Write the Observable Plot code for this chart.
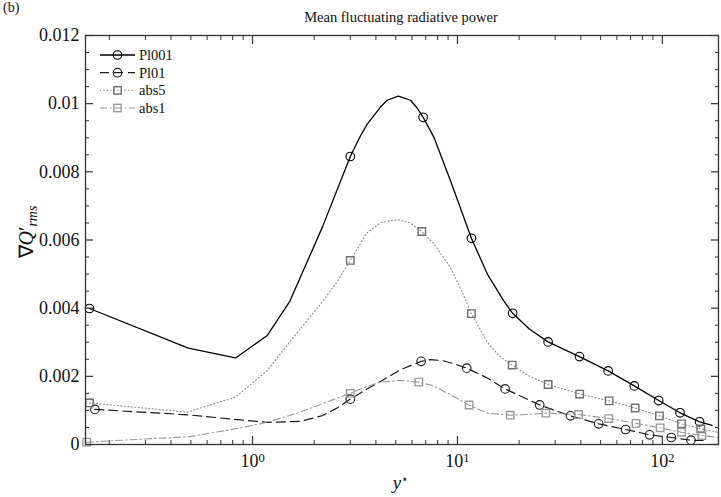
<!DOCTYPE html>
<html><head><meta charset="utf-8">
<script src="https://cdn.jsdelivr.net/npm/d3@7"></script>
<script src="https://cdn.jsdelivr.net/npm/@observablehq/plot@0.6"></script>
<style>
body{margin:0;background:#fff;}
#wrap{position:relative;width:721px;height:497px;overflow:hidden;}
</style></head><body><div id="wrap"></div>
<script>
// ---- data (y in units of 1e-3) ----
const pl001X = [0.16, 0.486, 0.826, 1.18, 1.52, 2.2, 3.0, 3.36, 3.63, 4.21, 4.54, 5.15, 5.9, 6.35, 6.8, 7.67, 9.23, 10.5, 11.7, 14, 16.8, 18.6, 22.5, 27.7, 39.4, 54.4, 73, 96, 122, 152, 175];
const pl001Y = [3.99, 2.83, 2.54, 3.2, 4.2, 6.4, 8.45, 9.05, 9.4, 9.9, 10.1, 10.22, 10.1, 9.88, 9.6, 9.02, 7.75, 6.83, 6.05, 5.0, 4.22, 3.85, 3.38, 3.01, 2.58, 2.16, 1.72, 1.29, 0.93, 0.666, 0.56];
const pl001Mk = [0, 6, 14, 18, 21, 23, 24, 25, 26, 27, 28, 29];

const pl01X = [0.17, 0.487, 0.84, 1.18, 1.71, 2.2, 2.6, 3.0, 3.6, 4.21, 5.3, 6.65, 7.4, 8.5, 9.7, 11.1, 14, 17.1, 25.2, 35.6, 48.9, 66.2, 86.7, 110.6, 138, 158];
const pl01Y = [1.03, 0.87, 0.73, 0.65, 0.68, 0.85, 1.08, 1.33, 1.62, 1.85, 2.2, 2.44, 2.49, 2.46, 2.36, 2.24, 1.95, 1.63, 1.16, 0.84, 0.607, 0.44, 0.284, 0.205, 0.127, 0.117];
const pl01Mk = [0, 7, 11, 15, 17, 18, 19, 20, 21, 22, 23, 24];

const abs5X = [0.16, 0.48, 0.826, 1.18, 1.68, 2.2, 2.63, 3.0, 3.6, 4.2, 4.7, 5.17, 5.9, 6.7, 7.67, 9.23, 10.5, 11.7, 14, 16, 18.5, 22.5, 27.7, 39.5, 55, 73.7, 96.8, 124, 154, 186];
const abs5Y = [1.22, 0.95, 1.39, 2.17, 3.34, 4.2, 4.84, 5.4, 6.2, 6.5, 6.57, 6.59, 6.5, 6.25, 5.89, 5.2, 4.5, 3.84, 3.0, 2.6, 2.33, 2.0, 1.76, 1.48, 1.28, 1.07, 0.84, 0.607, 0.46, 0.36];
const abs5Mk = [0, 7, 13, 17, 20, 22, 23, 24, 25, 26, 27, 28];

const abs1X = [0.155, 0.49, 0.826, 1.18, 1.71, 2.2, 3.0, 3.6, 4.21, 5.3, 6.48, 7.67, 9.23, 11.4, 14, 18.1, 22, 27, 39, 54.8, 74.4, 97.6, 124, 156, 186];
const abs1Y = [0.07, 0.23, 0.46, 0.65, 0.95, 1.2, 1.5, 1.7, 1.83, 1.88, 1.83, 1.72, 1.46, 1.16, 0.92, 0.86, 0.88, 0.92, 0.88, 0.76, 0.62, 0.49, 0.36, 0.264, 0.21];
const abs1Mk = [0, 6, 10, 13, 15, 17, 18, 19, 20, 21, 22, 23];

const seriesNames = ["Pl001", "Pl01", "abs5", "abs1"];

const xMajor = [1, 10, 100];
const xExp = ["0", "1", "2"];
const yMajor = [0, 0.002, 0.004, 0.006, 0.008, 0.01, 0.012];
const yLabels = ["0", "0.002", "0.004", "0.006", "0.008", "0.01", "0.012"];

const titleText = "Mean fluctuating radiative power";

// ---- styles ----
const styles = [
  {stroke: "#000", dash: null, width: 1.3, sym: "circle", mstroke: "#000"},
  {stroke: "#1a1a1a", dash: "9,5", width: 1.2, sym: "circle", mstroke: "#1a1a1a"},
  {stroke: "#8a8a8a", dash: "1,2.5", width: 1.1, sym: "square", mstroke: "#6e6e6e"},
  {stroke: "#9a9a9a", dash: "7,3,1.5,3", width: 1.1, sym: "square", mstroke: "#9a9a9a"}
];

const raw = [[pl001X, pl001Y, pl001Mk], [pl01X, pl01Y, pl01Mk], [abs5X, abs5Y, abs5Mk], [abs1X, abs1Y, abs1Mk]];
const tables = raw.map(([xs, ys, mk], s) => xs.map((x, i) => ({series: seriesNames[s], x, y: ys[i] * 1e-3, marker: mk.includes(i)})));

const xMinor = [];
[0.1, 1, 10, 100].forEach(d => [2,3,4,5,6,7,8,9].forEach(k => { const v = d * k; if (v > 0.153 && v < 188) xMinor.push(v); }));
const yMinor = d3.range(0, 25).map(i => i * 0.0005).filter(v => !yMajor.some(m => Math.abs(m - v) < 1e-9));

const axisCol = "#333";
const marks = [];
tables.forEach((t, s) => {
  const st = styles[s];
  marks.push(Plot.line(t, {x: "x", y: "y", stroke: st.stroke, strokeWidth: st.width, strokeDasharray: st.dash}));
});
tables.forEach((t, s) => {
  const st = styles[s];
  marks.push(Plot.dot(t.filter(d => d.marker), {x: "x", y: "y", r: st.sym === "circle" ? 4.3 : 4.2, symbol: st.sym, stroke: st.mstroke, strokeWidth: st.sym === "circle" ? 1.1 : 1.4, fill: "none"}));
});
// ticks (inward)
for (const anchor of ["bottom", "top"]) {
  marks.push(Plot.axisX(xMajor, {anchor, tickSize: -8, fill: "none", stroke: axisCol, strokeWidth: 1.2, label: null}));
  marks.push(Plot.axisX(xMinor, {anchor, tickSize: -4, fill: "none", stroke: axisCol, strokeWidth: 1, label: null}));
}
for (const anchor of ["left", "right"]) {
  marks.push(Plot.axisY(yMajor, {anchor, tickSize: -8, fill: "none", stroke: axisCol, strokeWidth: 1.2, label: null}));
  marks.push(Plot.axisY(yMinor, {anchor, tickSize: -4, fill: "none", stroke: axisCol, strokeWidth: 1, label: null}));
}
// tick labels
marks.push(Plot.axisX(xMajor, {anchor: "bottom", tickSize: 0, tickPadding: 10, tickFormat: () => "10", fontSize: 18, fill: "#111", label: null}));
marks.push(Plot.axisY(yMajor, {anchor: "left", tickSize: 0, tickPadding: 6, tickFormat: (d, i) => yLabels[i], fontSize: 18, fill: "#111", label: null}));
marks.push(Plot.frame({stroke: axisCol, strokeWidth: 1.3}));

const svg = Plot.plot({
  width: 721, height: 497,
  marginLeft: 85, marginRight: 3, marginTop: 35, marginBottom: 53,
  x: {type: "log", domain: [0.153, 188]},
  y: {domain: [0, 0.012]},
  style: {fontFamily: "'Liberation Serif', serif", background: "white", color: "#111", overflow: "visible"},
  marks
});
document.getElementById("wrap").appendChild(svg);

const S = d3.select(svg);
// superscripts on x tick labels
S.selectAll('g[aria-label="x-axis tick label"] text').each(function(d, i) {
  d3.select(this).append("tspan").attr("dy", "-0.45em").attr("font-size", 12.5).text(xExp[i]);
});
const fam = "'Liberation Serif', serif";
// title
S.append("text").attr("x", 401).attr("y", 22).attr("text-anchor", "middle").attr("font-family", fam).attr("font-size", 14.5).attr("fill", "#111").text(titleText);
// panel tag
S.append("text").attr("x", 3).attr("y", 12).attr("text-anchor", "start").attr("font-family", fam).attr("font-size", 14).attr("fill", "#111").text("(b)");
// x label
const xl = S.append("text").attr("x", 401).attr("y", 489).attr("text-anchor", "middle").attr("font-family", fam).attr("font-size", 19).attr("fill", "#111");
xl.append("tspan").attr("font-style", "italic").text("y");
xl.append("tspan").attr("dy", "-0.5em").attr("font-size", 12).text("⋆");
// y label
const yl = S.append("text").attr("transform", "translate(33,232) rotate(-90)").attr("text-anchor", "middle").attr("font-family", fam).attr("font-size", 20).attr("fill", "#111");
yl.append("tspan").text("∇");
yl.append("tspan").attr("font-style", "italic").text("Q");
yl.append("tspan").text("′");
yl.append("tspan").attr("dy", "0.3em").attr("font-style", "italic").attr("font-size", 14).text("rms");

// legend
const lg = S.append("g").attr("text-anchor", "start");
const rowsY = [55, 72.7, 90.4, 108];
seriesNames.forEach((name, i) => {
  const st = styles[i], y = rowsY[i];
  lg.append("line").attr("x1", 100).attr("x2", 135).attr("y1", y).attr("y2", y).attr("stroke", st.stroke).attr("stroke-width", st.width).attr("stroke-dasharray", st.dash);
  if (st.sym === "circle") lg.append("circle").attr("cx", 117.5).attr("cy", y).attr("r", 4.3).attr("fill", "none").attr("stroke", st.mstroke).attr("stroke-width", 1.1);
  else lg.append("rect").attr("x", 117.5 - 3.7).attr("y", y - 3.7).attr("width", 7.4).attr("height", 7.4).attr("fill", "none").attr("stroke", st.mstroke).attr("stroke-width", 1.4);
  lg.append("text").attr("x", 139).attr("y", y + 4.8).attr("text-anchor", "start").attr("font-family", fam).attr("font-size", 14.5).attr("fill", "#111").text(name);
});
</script></body></html>
